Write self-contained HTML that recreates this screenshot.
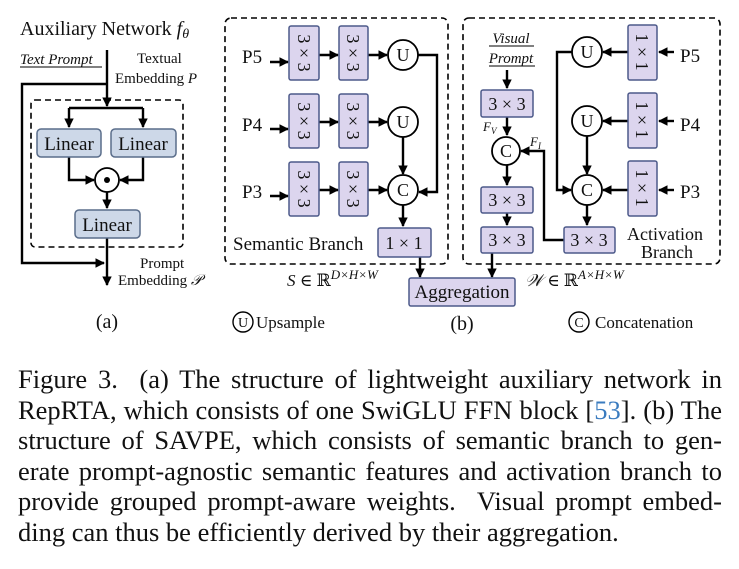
<!DOCTYPE html>
<html><head><meta charset="utf-8"><style>
html,body{margin:0;padding:0;background:#fff;width:739px;height:569px;overflow:hidden;position:relative}
svg{display:block;position:absolute;left:0;top:0}
text{font-family:"Liberation Serif","DejaVu Serif",serif;fill:#111}
.cap{position:absolute;left:18px;top:364px;width:704px;font-family:"Liberation Serif",serif;font-size:26.5px;line-height:30.6px;color:#111;text-align:justify;text-align-last:left;margin:0}
.cap span.l{display:block;text-align:justify;text-align-last:justify;white-space:nowrap}
.cap span.last{display:block;text-align-last:left;white-space:nowrap}
</style></head><body>
<svg width="739" height="569" viewBox="0 0 739 569" xmlns="http://www.w3.org/2000/svg">
<defs>
<marker id="a" viewBox="0 0 10 10" refX="9" refY="5" markerWidth="4" markerHeight="4" orient="auto" markerUnits="strokeWidth"><path d="M0,0L10,5L0,10z" fill="#000"/></marker>
</defs>
<g stroke="#000" stroke-width="2.4" fill="none">
<rect x="31" y="100" width="152" height="147" rx="4" stroke-width="1.6" stroke-dasharray="6,4"/>
<path d="M107 50V106" marker-end="url(#a)"/>
<path d="M107 84H22V263H104" marker-end="url(#a)"/>
<path d="M69 108H143"/>
<path d="M69 108V127" marker-end="url(#a)"/>
<path d="M143 108V127" marker-end="url(#a)"/>
<path d="M69 157V180H94" marker-end="url(#a)"/>
<path d="M143 157V180H120" marker-end="url(#a)"/>
<path d="M107 192V208" marker-end="url(#a)"/>
<path d="M107 238V285" marker-end="url(#a)"/>
<rect x="225" y="18" width="223" height="246" rx="6" stroke-width="1.6" stroke-dasharray="6,4"/>
<path d="M270 62H288" marker-end="url(#a)"/><path d="M270 129H288" marker-end="url(#a)"/><path d="M270 196H288" marker-end="url(#a)"/>
<path d="M319 55H338" marker-end="url(#a)"/><path d="M319 122H338" marker-end="url(#a)"/><path d="M319 190H338" marker-end="url(#a)"/>
<path d="M368 55H387" marker-end="url(#a)"/><path d="M368 122H387" marker-end="url(#a)"/><path d="M368 190H387" marker-end="url(#a)"/>
<path d="M418 55H437V192H419" marker-end="url(#a)"/>
<path d="M403 137V174" marker-end="url(#a)"/>
<path d="M403 205V226" marker-end="url(#a)"/>
<path d="M420 257V277" marker-end="url(#a)"/>
<rect x="463" y="18" width="257" height="246" rx="6" stroke-width="1.6" stroke-dasharray="6,4"/>
<path d="M507 70V88" marker-end="url(#a)"/>
<path d="M507 117V135" marker-end="url(#a)"/>
<path d="M507 165V185" marker-end="url(#a)"/>
<path d="M507 213V225" marker-end="url(#a)"/>
<path d="M492 253V277" marker-end="url(#a)"/>
<path d="M564 240H544V151H521" marker-end="url(#a)"/>
<path d="M674 52H659" marker-end="url(#a)"/><path d="M674 121H659" marker-end="url(#a)"/><path d="M674 190H659" marker-end="url(#a)"/>
<path d="M628 52H603" marker-end="url(#a)"/><path d="M628 121H603" marker-end="url(#a)"/><path d="M628 190H603" marker-end="url(#a)"/>
<path d="M572 52H557V190H571" marker-end="url(#a)"/>
<path d="M587 136V174" marker-end="url(#a)"/>
<path d="M587 205V225" marker-end="url(#a)"/>
</g>
<g fill="#cdd8e8" stroke="#5a6d8a" stroke-width="1.5">
<rect x="37" y="129" width="64" height="28" rx="4"/><rect x="111" y="129" width="65" height="28" rx="4"/><rect x="75" y="210" width="65" height="28" rx="4"/>
</g>
<g fill="#dcd5ee" stroke="#4d5a8a" stroke-width="1.5">
<rect x="289" y="26" width="30" height="54" rx="2"/><rect x="289" y="94" width="30" height="54" rx="2"/><rect x="289" y="162" width="30" height="54" rx="2"/>
<rect x="339" y="26" width="29" height="54" rx="2"/><rect x="339" y="94" width="29" height="54" rx="2"/><rect x="339" y="162" width="29" height="54" rx="2"/>
<rect x="378" y="228" width="53" height="29" rx="2"/>
<rect x="409" y="278" width="106" height="28" rx="2"/>
<rect x="481" y="90" width="52" height="27" rx="2"/><rect x="481" y="187" width="52" height="26" rx="2"/><rect x="481" y="227" width="52" height="26" rx="2"/>
<rect x="628" y="25" width="29" height="55" rx="2"/><rect x="628" y="93" width="29" height="55" rx="2"/><rect x="628" y="161" width="29" height="55" rx="2"/>
<rect x="564" y="227" width="51" height="26" rx="2"/>
</g>
<g fill="#fff" stroke="#000" stroke-width="1.8">
<circle cx="107" cy="180" r="12"/>
<circle cx="403" cy="55" r="15"/><circle cx="403" cy="122" r="15"/><circle cx="403" cy="190" r="15"/>
<circle cx="506" cy="151" r="14"/>
<circle cx="587" cy="52" r="15"/><circle cx="587" cy="121" r="15"/><circle cx="587" cy="190" r="15"/>
<circle cx="243" cy="322" r="10" stroke-width="1.4"/><circle cx="579" cy="322" r="10" stroke-width="1.4"/>
</g>
<circle cx="107" cy="180" r="3" fill="#000"/>
<text x="20" y="35" font-size="20">Auxiliary Network <tspan font-style="italic">f</tspan><tspan font-style="italic" font-size="14" dy="3">θ</tspan></text>
<text x="20" y="64" font-size="15" font-style="italic">Text Prompt</text>
<path d="M20 67H102" stroke="#000" stroke-width="1"/>
<text x="137" y="63" font-size="15">Textual</text>
<text x="115" y="83" font-size="15">Embedding <tspan font-style="italic">P</tspan></text>
<g font-size="19" text-anchor="middle"><text x="69" y="150">Linear</text><text x="143" y="150">Linear</text><text x="107" y="231">Linear</text></g>
<text x="140" y="268" font-size="15">Prompt</text>
<text x="118" y="285" font-size="15">Embedding <tspan font-style="italic">𝒫</tspan></text>
<text x="107" y="328" font-size="20" text-anchor="middle">(a)</text>
<g font-size="19"><text x="242" y="63">P5</text><text x="242" y="131">P4</text><text x="242" y="198">P3</text></g>
<g font-size="18" text-anchor="middle">
<text transform="translate(304,53) rotate(90)" dy="6">3 × 3</text><text transform="translate(304,121) rotate(90)" dy="6">3 × 3</text><text transform="translate(304,189) rotate(90)" dy="6">3 × 3</text>
<text transform="translate(353,53) rotate(90)" dy="6">3 × 3</text><text transform="translate(353,121) rotate(90)" dy="6">3 × 3</text><text transform="translate(353,189) rotate(90)" dy="6">3 × 3</text>
<text transform="translate(642,52) rotate(90)" dy="6">1 × 1</text><text transform="translate(642,120) rotate(90)" dy="6">1 × 1</text><text transform="translate(642,188) rotate(90)" dy="6">1 × 1</text>
<text x="403" y="61">U</text><text x="403" y="128">U</text><text x="403" y="196">C</text>
<text x="587" y="58">U</text><text x="587" y="127">U</text><text x="587" y="196">C</text><text x="506" y="157">C</text>
<text x="404" y="249">1 × 1</text>
<text x="507" y="110">3 × 3</text><text x="507" y="206">3 × 3</text><text x="507" y="246">3 × 3</text><text x="589" y="246">3 × 3</text>
<text x="462" y="298" font-size="19">Aggregation</text>
</g>
<text x="233" y="250" font-size="19">Semantic Branch</text>
<text x="287" y="286" font-size="17" font-style="italic">S <tspan font-style="normal">∈ ℝ</tspan><tspan font-size="13" dy="-7">D×H×W</tspan></text>
<g font-size="14" text-anchor="middle"><text x="243" y="327">U</text><text x="579" y="327">C</text></g>
<text x="256" y="328" font-size="17">Upsample</text>
<text x="462" y="330" font-size="20" text-anchor="middle">(b)</text>
<text x="595" y="328" font-size="17">Concatenation</text>
<g font-size="15" font-style="italic" text-anchor="middle"><text x="511" y="43">Visual</text><text x="511" y="63">Prompt</text></g>
<path d="M489 46H534M489 66H535" stroke="#000" stroke-width="1"/>
<g font-size="19"><text x="680" y="62">P5</text><text x="680" y="131">P4</text><text x="680" y="198">P3</text></g>
<text x="483" y="131" font-size="13" font-style="italic">F<tspan font-size="9" dy="3">V</tspan></text>
<text x="530" y="146" font-size="13" font-style="italic">F<tspan font-size="9" dy="3">I</tspan></text>
<text x="665" y="240" font-size="18" text-anchor="middle">Activation</text>
<text x="667" y="258" font-size="18" text-anchor="middle">Branch</text>
<text x="525" y="286" font-size="17" font-style="italic">𝒲 <tspan font-style="normal">∈ ℝ</tspan><tspan font-size="13" dy="-7">A×H×W</tspan></text>
</svg>
<div class="cap">
<span class="l">Figure 3.&nbsp; (a) The structure of lightweight auxiliary network in</span>
<span class="l">RepRTA, which consists of one SwiGLU FFN block [<span style="color:#3a7bbf">53</span>]. (b) The</span>
<span class="l">structure of SAVPE, which consists of semantic branch to gen-</span>
<span class="l">erate prompt-agnostic semantic features and activation branch to</span>
<span class="l">provide grouped prompt-aware weights.&nbsp; Visual prompt embed-</span>
<span class="last">ding can thus be efficiently derived by their aggregation.</span>
</div>
</body></html>
